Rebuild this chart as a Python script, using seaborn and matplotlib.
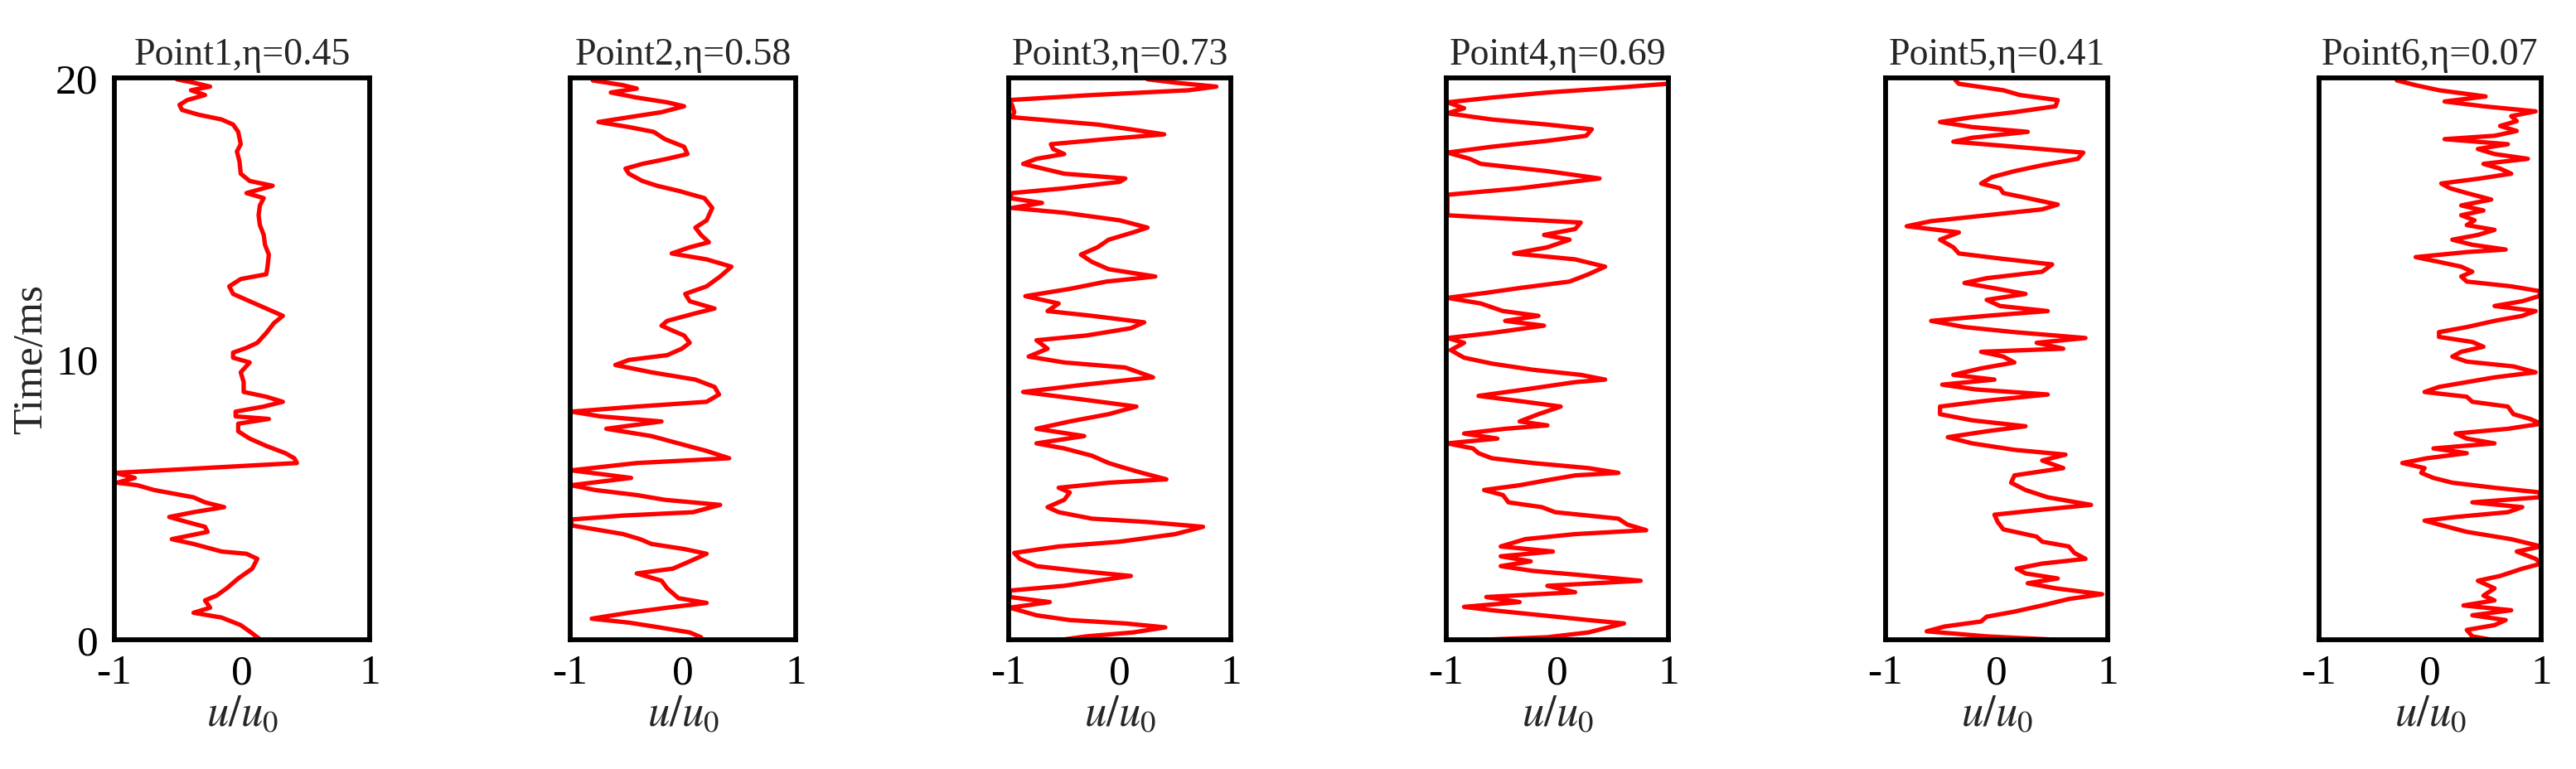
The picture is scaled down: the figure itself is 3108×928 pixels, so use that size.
import matplotlib
matplotlib.use("Agg")
import matplotlib.pyplot as plt
import seaborn as sns
import pandas as pd

# ---------------- data ----------------
titles = ["Point1,η=0.45", "Point2,η=0.58", "Point3,η=0.73",
          "Point4,η=0.69", "Point5,η=0.41", "Point6,η=0.07"]
x_ticks = [-1, 0, 1]
x_ticklabels = ["-1", "0", "1"]
y_ticks = [0, 10, 20]
y_ticklabels = ["0", "10", "20"]

t1 = [0, 0.26, 0.52, 0.79, 0.96, 1.14, 1.40, 1.57, 1.83, 2.18, 2.53, 2.88, 3.06, 3.14, 3.41, 3.58, 3.84, 4.02, 4.19, 4.37,
      4.54, 4.72, 4.89, 5.07, 5.33, 5.50, 5.59, 5.76, 5.94, 6.29, 6.46, 6.64, 6.90, 7.16, 7.42, 7.69, 7.86, 7.95, 8.12,
      8.30, 8.47, 8.65, 8.82, 9.17, 9.52, 9.87, 10.04, 10.22, 10.39, 10.57, 10.92, 11.27, 11.53, 11.79, 12.05, 12.31, 12.58,
      12.84, 13.01, 13.28, 13.71, 14.06, 14.41, 14.76, 15.11, 15.46, 15.72, 15.90, 16.16, 16.33, 16.59, 17.03, 17.38, 17.64,
      18.08, 18.34, 18.52, 18.69, 18.86, 19.04, 19.21, 19.39, 19.56, 19.69, 19.83, 19.95]
u1 = [0.145, 0.07, -0.01, -0.16, -0.38, -0.25, -0.29, -0.2, -0.12, -0.03, 0.08, 0.12, 0.035, -0.16, -0.38, -0.55, -0.27,
      -0.29, -0.43, -0.57, -0.38, -0.14, -0.29, -0.38, -0.69, -0.82, -0.98, -0.84, -0.99, 0.43, 0.41, 0.34, 0.19, 0.06,
      -0.03, -0.03, 0.21, -0.05, -0.05, 0.17, 0.32, 0.19, 0.013, 0.013, -0.01, 0.06, -0.07, -0.07, 0.035, 0.12, 0.19, 0.25,
      0.32, 0.19, 0.06, -0.07, -0.1, -0.01, 0.19, 0.2, 0.21, 0.18, 0.17, 0.14, 0.13, 0.14, 0.17, 0.035, 0.24, 0.06, -0.01,
      -0.02, -0.04, -0.01, -0.03, -0.07, -0.16, -0.34, -0.47, -0.49, -0.43, -0.29, -0.4, -0.25, -0.38, -0.51]

t2 = [0.09, 0.26, 0.44, 0.61, 0.75, 0.96, 1.14, 1.31, 1.48, 1.83, 2.10, 2.36, 2.53, 2.79, 3.06, 3.23, 3.41, 3.58, 3.76, 3.93,
      4.07, 4.28, 4.42, 4.54, 4.80, 4.98, 5.15, 5.33, 5.50, 5.76, 6.03, 6.29, 6.46, 6.72, 6.99, 7.25, 7.51, 7.77, 7.95, 8.12,
      8.30, 8.47, 8.73, 9.00, 9.26, 9.52, 9.78, 9.96, 10.13, 10.36, 10.57, 10.83, 11.00, 11.18, 11.35, 11.62, 11.79, 12.05,
      12.31, 12.58, 12.93, 13.28, 13.54, 13.75, 13.97, 14.15, 14.41, 14.67, 14.93, 15.37, 15.72, 15.98, 16.16, 16.33, 16.59,
      16.77, 16.94, 17.12, 17.29, 17.55, 17.82, 18.08, 18.25, 18.43, 18.60, 18.78, 18.99, 19.13, 19.30, 19.48, 19.62, 19.74,
      19.91]
u2 = [0.16, 0.06, -0.21, -0.48, -0.81, -0.48, -0.14, 0.21, -0.04, -0.14, -0.19, -0.41, -0.09, 0.06, 0.21, 0.01, -0.28,
      -0.38, -0.53, -0.78, -0.99, -0.99, -0.53, 0.09, 0.33, -0.16, -0.41, -0.78, -0.99, -0.46, -0.99, -0.41, 0.41, 0.21,
      -0.04, -0.28, -0.68, -0.19, -0.73, -0.99, -0.41, 0.21, 0.32, 0.28, 0.11, -0.28, -0.6, -0.48, -0.14, -0.01, 0.06, 0.01,
      -0.09, -0.19, -0.14, 0.11, 0.28, 0.06, 0.02, 0.21, 0.33, 0.43, 0.21, -0.1, 0.06, 0.23, 0.16, 0.11, 0.21, 0.26, 0.19,
      -0.04, -0.23, -0.36, -0.48, -0.51, -0.36, -0.14, 0.04, 0.01, -0.16, -0.26, -0.48, -0.75, -0.48, -0.19, 0.01, -0.14,
      -0.41, -0.64, -0.41, -0.53, -0.8]

t3 = [0.00, 0.12, 0.26, 0.44, 0.58, 0.70, 0.87, 1.14, 1.34, 1.52, 1.75, 1.92, 2.10, 2.27, 2.45, 2.62, 2.88, 3.09, 3.32, 3.49,
      3.76, 4.02, 4.19, 4.31, 4.54, 4.72, 4.98, 5.24, 5.41, 5.59, 5.71, 5.94, 6.11, 6.29, 6.55, 6.81, 6.99, 7.25, 7.51, 7.77,
      8.03, 8.30, 8.56, 8.82, 9.08, 9.34, 9.69, 9.87, 10.08, 10.36, 10.66, 10.83, 11.09, 11.30, 11.53, 11.70, 11.97, 12.23,
      12.49, 12.75, 12.93, 13.19, 13.45, 13.71, 13.97, 14.24, 14.50, 14.67, 14.93, 15.20, 15.37, 15.55, 15.72, 15.90, 16.07,
      16.30, 16.42, 16.59, 16.94, 17.12, 17.29, 17.47, 17.64, 17.82, 17.99, 18.17, 18.34, 18.60, 18.78, 19.04, 19.21, 19.39,
      19.56, 19.69, 19.83, 19.95]
u3 = [-0.52, -0.3, 0.12, 0.41, 0.05, -0.45, -0.75, -0.99, -0.63, -0.99, -0.99, -0.5, -0.2, 0.1, -0.37, -0.75, -0.9, -0.95,
      -0.55, 0.0, 0.5, 0.75, 0.25, -0.25, -0.55, -0.65, -0.5, -0.45, -0.55, -0.1, 0.42, 0.2, 0.05, -0.1, -0.25, -0.5, -0.75,
      -0.32, -0.75, -0.45, -0.1, 0.15, -0.35, -0.87, -0.32, 0.3, 0.05, -0.5, -0.82, -0.65, -0.75, -0.3, 0.1, 0.22, -0.25,
      -0.65, -0.55, -0.85, -0.45, -0.12, 0.32, -0.1, -0.25, -0.35, -0.2, -0.1, 0.12, 0.25, 0.0, -0.5, -0.97, -0.7, -0.99,
      -0.97, -0.5, 0.0, 0.05, -0.5, -0.87, -0.75, -0.5, -0.6, -0.62, -0.12, 0.4, 0.1, -0.2, -0.97, -0.95, -0.97, -1.0,
      -0.25, 0.62, 0.87, 0.5, 0.25]

t4 = [0.00, 0.09, 0.26, 0.44, 0.58, 0.70, 0.87, 1.05, 1.17, 1.34, 1.52, 1.69, 1.92, 2.10, 2.32, 2.45, 2.62, 2.79, 2.97, 3.14,
      3.32, 3.58, 3.76, 3.90, 4.10, 4.31, 4.54, 4.72, 4.89, 5.15, 5.33, 5.50, 5.68, 5.85, 5.94, 6.11, 6.29, 6.46, 6.64, 6.81,
      6.99, 7.16, 7.34, 7.51, 7.63, 7.77, 8.03, 8.30, 8.47, 8.68, 8.91, 9.17, 9.26, 9.43, 9.61, 9.83, 10.04, 10.31, 10.57,
      10.74, 10.92, 11.18, 11.35, 11.53, 11.70, 11.97, 12.17, 12.35, 12.52, 12.75, 13.01, 13.28, 13.54, 13.75, 13.97, 14.24,
      14.41, 14.62, 14.85, 15.02, 15.11, 15.37, 15.84, 16.07, 16.42, 16.68, 16.94, 17.12, 17.34, 17.55, 17.76, 17.94, 18.17,
      18.34, 18.52, 18.74, 18.92, 19.13, 19.30, 19.48, 19.65, 19.79]
u4 = [-0.66, -0.09, 0.28, 0.46, 0.6, 0.28, -0.14, -0.59, -0.84, -0.34, -0.64, 0.16, -0.09, 0.75, 0.16, -0.22, -0.51, -0.24,
      -0.51, -0.04, -0.51, -0.29, 0.16, 0.8, 0.63, 0.55, -0.02, -0.14, -0.44, -0.49, -0.66, -0.34, -0.09, 0.16, 0.55, 0.28,
      -0.22, -0.59, -0.71, -0.76, -0.99, -0.54, -0.84, -0.47, -0.09, -0.34, -0.17, 0.03, -0.29, -0.71, -0.29, 0.16, 0.43,
      0.21, -0.22, -0.59, -0.84, -0.96, -0.84, -0.99, -0.59, -0.12, -0.47, -0.17, -0.49, -0.69, -0.99, -0.64, -0.34, 0.11,
      0.28, 0.43, 0.16, -0.39, -0.09, 0.11, -0.12, 0.16, 0.21, -0.59, -0.99, -0.99, -0.99, -0.34, 0.38, -0.09, -0.69, -0.79,
      -0.99, -0.59, -0.09, 0.26, 0.31, -0.09, -0.59, -0.99, -0.84, -0.99, -0.59, -0.09, 0.53, 0.99]

t5 = [0.00, 0.12, 0.30, 0.47, 0.65, 0.82, 1.00, 1.22, 1.45, 1.62, 1.83, 2.01, 2.18, 2.36, 2.53, 2.71, 2.88, 3.09, 3.32, 3.49,
      3.67, 3.93, 4.19, 4.45, 4.63, 4.80, 5.07, 5.33, 5.59, 5.85, 6.11, 6.38, 6.59, 6.76, 6.99, 7.21, 7.42, 7.60, 7.81, 8.03,
      8.30, 8.51, 8.73, 8.91, 9.08, 9.26, 9.43, 9.66, 9.87, 10.08, 10.25, 10.36, 10.57, 10.74, 10.95, 11.13, 11.35, 11.53,
      11.70, 11.88, 12.10, 12.31, 12.49, 12.70, 12.87, 13.10, 13.36, 13.57, 13.75, 13.97, 14.24, 14.50, 14.72, 14.90, 15.11,
      15.32, 15.49, 15.72, 15.90, 16.07, 16.24, 16.47, 16.68, 16.89, 17.12, 17.34, 17.55, 17.73, 17.87, 18.08, 18.25, 18.43,
      18.60, 18.78, 18.99, 19.21, 19.39, 19.56, 19.79, 19.91]
u5 = [0.53, -0.09, -0.63, -0.47, -0.14, -0.09, 0.16, 0.41, 0.65, 0.95, 0.53, 0.28, 0.55, 0.26, 0.18, 0.41, 0.8, 0.7, 0.65,
      0.41, 0.36, 0.06, 0.01, -0.02, 0.41, 0.85, 0.46, 0.26, 0.13, 0.16, 0.6, 0.41, 0.62, 0.16, -0.22, -0.44, -0.09, 0.26,
      -0.22, -0.51, -0.51, -0.09, 0.46, -0.19, -0.49, -0.02, -0.39, -0.14, 0.16, 0.06, -0.14, 0.6, 0.36, 0.8, 0.16, -0.29,
      -0.59, -0.09, 0.46, 0.03, -0.09, 0.26, 0.01, -0.29, -0.09, 0.41, 0.5, 0.03, -0.34, -0.39, -0.51, -0.34, -0.81, -0.59,
      -0.09, 0.41, 0.55, 0.28, 0.06, 0.03, -0.14, -0.04, 0.16, 0.41, 0.73, 0.78, 0.16, -0.39, -0.22, 0.28, -0.22, -0.51,
      -0.22, 0.16, 0.53, 0.55, 0.21, 0.06, -0.34, -0.37]

t6 = [0.00, 0.12, 0.35, 0.52, 0.70, 0.87, 1.05, 1.22, 1.40, 1.57, 1.83, 2.10, 2.27, 2.53, 2.71, 2.88, 3.14, 3.32, 3.58, 3.84,
      4.10, 4.24, 4.37, 4.54, 4.72, 4.89, 5.07, 5.24, 5.41, 5.59, 5.76, 5.94, 6.11, 6.29, 6.46, 6.64, 6.81, 6.99, 7.16, 7.34,
      7.51, 7.69, 7.86, 8.03, 8.30, 8.47, 8.65, 8.82, 9.00, 9.17, 9.34, 9.52, 9.73, 9.90, 10.08, 10.25, 10.43, 10.60, 10.78,
      10.95, 11.13, 11.35, 11.53, 11.70, 11.88, 12.05, 12.23, 12.40, 12.58, 12.75, 12.93, 13.10, 13.28, 13.45, 13.62, 13.80,
      13.89, 14.06, 14.24, 14.41, 14.59, 14.76, 14.93, 15.11, 15.28, 15.46, 15.67, 15.90, 16.07, 16.24, 16.42, 16.59, 16.77,
      16.94, 17.12, 17.29, 17.47, 17.64, 17.82, 17.94, 18.11, 18.29, 18.46, 18.64, 18.81, 18.99, 19.16, 19.34, 19.56, 19.74,
      19.91]
u6 = [0.55, 0.38, 0.33, 0.58, 0.68, 0.38, 0.73, 0.3, 0.58, 0.48, 0.58, 0.43, 0.63, 0.83, 1.0, 0.95, 0.78, 1.0, 0.73, 0.33,
      0.08, -0.05, 0.23, 0.7, 0.83, 0.38, 0.98, 1.0, 0.58, 0.2, 0.03, -0.08, -0.05, -0.25, -0.03, 0.33, 0.03, 0.58, 0.33,
      0.23, 0.7, 1.0, 0.9, 0.75, 0.7, 0.38, 0.33, -0.05, 0.08, 0.33, 0.58, 0.95, 0.75, 0.33, 0.2, 0.28, 0.48, 0.38, 0.08,
      0.08, 0.33, 0.58, 0.83, 0.95, 0.58, 0.83, 0.98, 1.0, 0.73, 0.33, 0.28, 0.38, 0.28, 0.08, -0.13, 0.33, 0.68, 0.38, 0.2,
      0.43, 0.58, 0.33, 0.4, 0.28, 0.48, 0.28, 0.55, 0.33, 0.18, 0.1, 0.45, 0.73, 0.63, 0.48, 0.88, 0.58, 0.43, 0.7, 0.13,
      0.58, 0.78, 0.63, 0.78, 0.73, 0.95, 0.48, 0.13, 0.5, 0.08, -0.13, -0.3]

series = [(t1, u1), (t2, u2), (t3, u3), (t4, u4), (t5, u5), (t6, u6)]

# ---------------- style ----------------
sns.set_theme(style="white")
plt.rcParams["font.family"] = ["Liberation Serif", "DejaVu Serif"]
plt.rcParams["mathtext.fontset"] = "stix"

W, H = 3108, 929
fig = plt.figure(figsize=(W / 100, H / 100), dpi=100)
fig.patch.set_facecolor("white")

# axes boxes in pixels (left, width); common top/bottom
box_left = [138, 688, 1217, 1745, 2275, 2798]
box_width = [308, 272, 268, 268, 268, 268]
box_top, box_bottom = 95, 773

for i, (tt, uu) in enumerate(series):
    ax = fig.add_axes([box_left[i] / W, 1 - box_bottom / H,
                       box_width[i] / W, (box_bottom - box_top) / H])
    df = pd.DataFrame({"u": uu, "t": tt})
    sns.lineplot(data=df, x="u", y="t", sort=False, estimator=None,
                 color="#ff0000", linewidth=3.8, ax=ax)
    ax.set_xlim(-1, 1)
    ax.set_ylim(0, 20)
    ax.set_xticks(x_ticks)
    ax.set_xticklabels(x_ticklabels, fontsize=37)
    ax.set_yticks(y_ticks)
    if i == 0:
        ax.set_yticklabels(y_ticklabels, fontsize=37)
        ax.set_ylabel("Time/ms", fontsize=37, labelpad=4)
    else:
        ax.set_yticklabels([])
        ax.set_ylabel("")
    ax.set_xlabel("$u/u_0$", fontsize=38, labelpad=2)
    ax.set_title(titles[i], fontsize=33, pad=12)
    for sp in ax.spines.values():
        sp.set_visible(True)
        sp.set_linewidth(4.2)
        sp.set_color("black")
        sp.set_zorder(3)
    ax.tick_params(axis="both", direction="in", length=11, width=2.5,
                   colors="black", top=False, right=False, pad=12)
    ax.tick_params(axis="y", pad=14)
    ax.set_facecolor("white")

fig.savefig("out.png", dpi=100, facecolor="white")
